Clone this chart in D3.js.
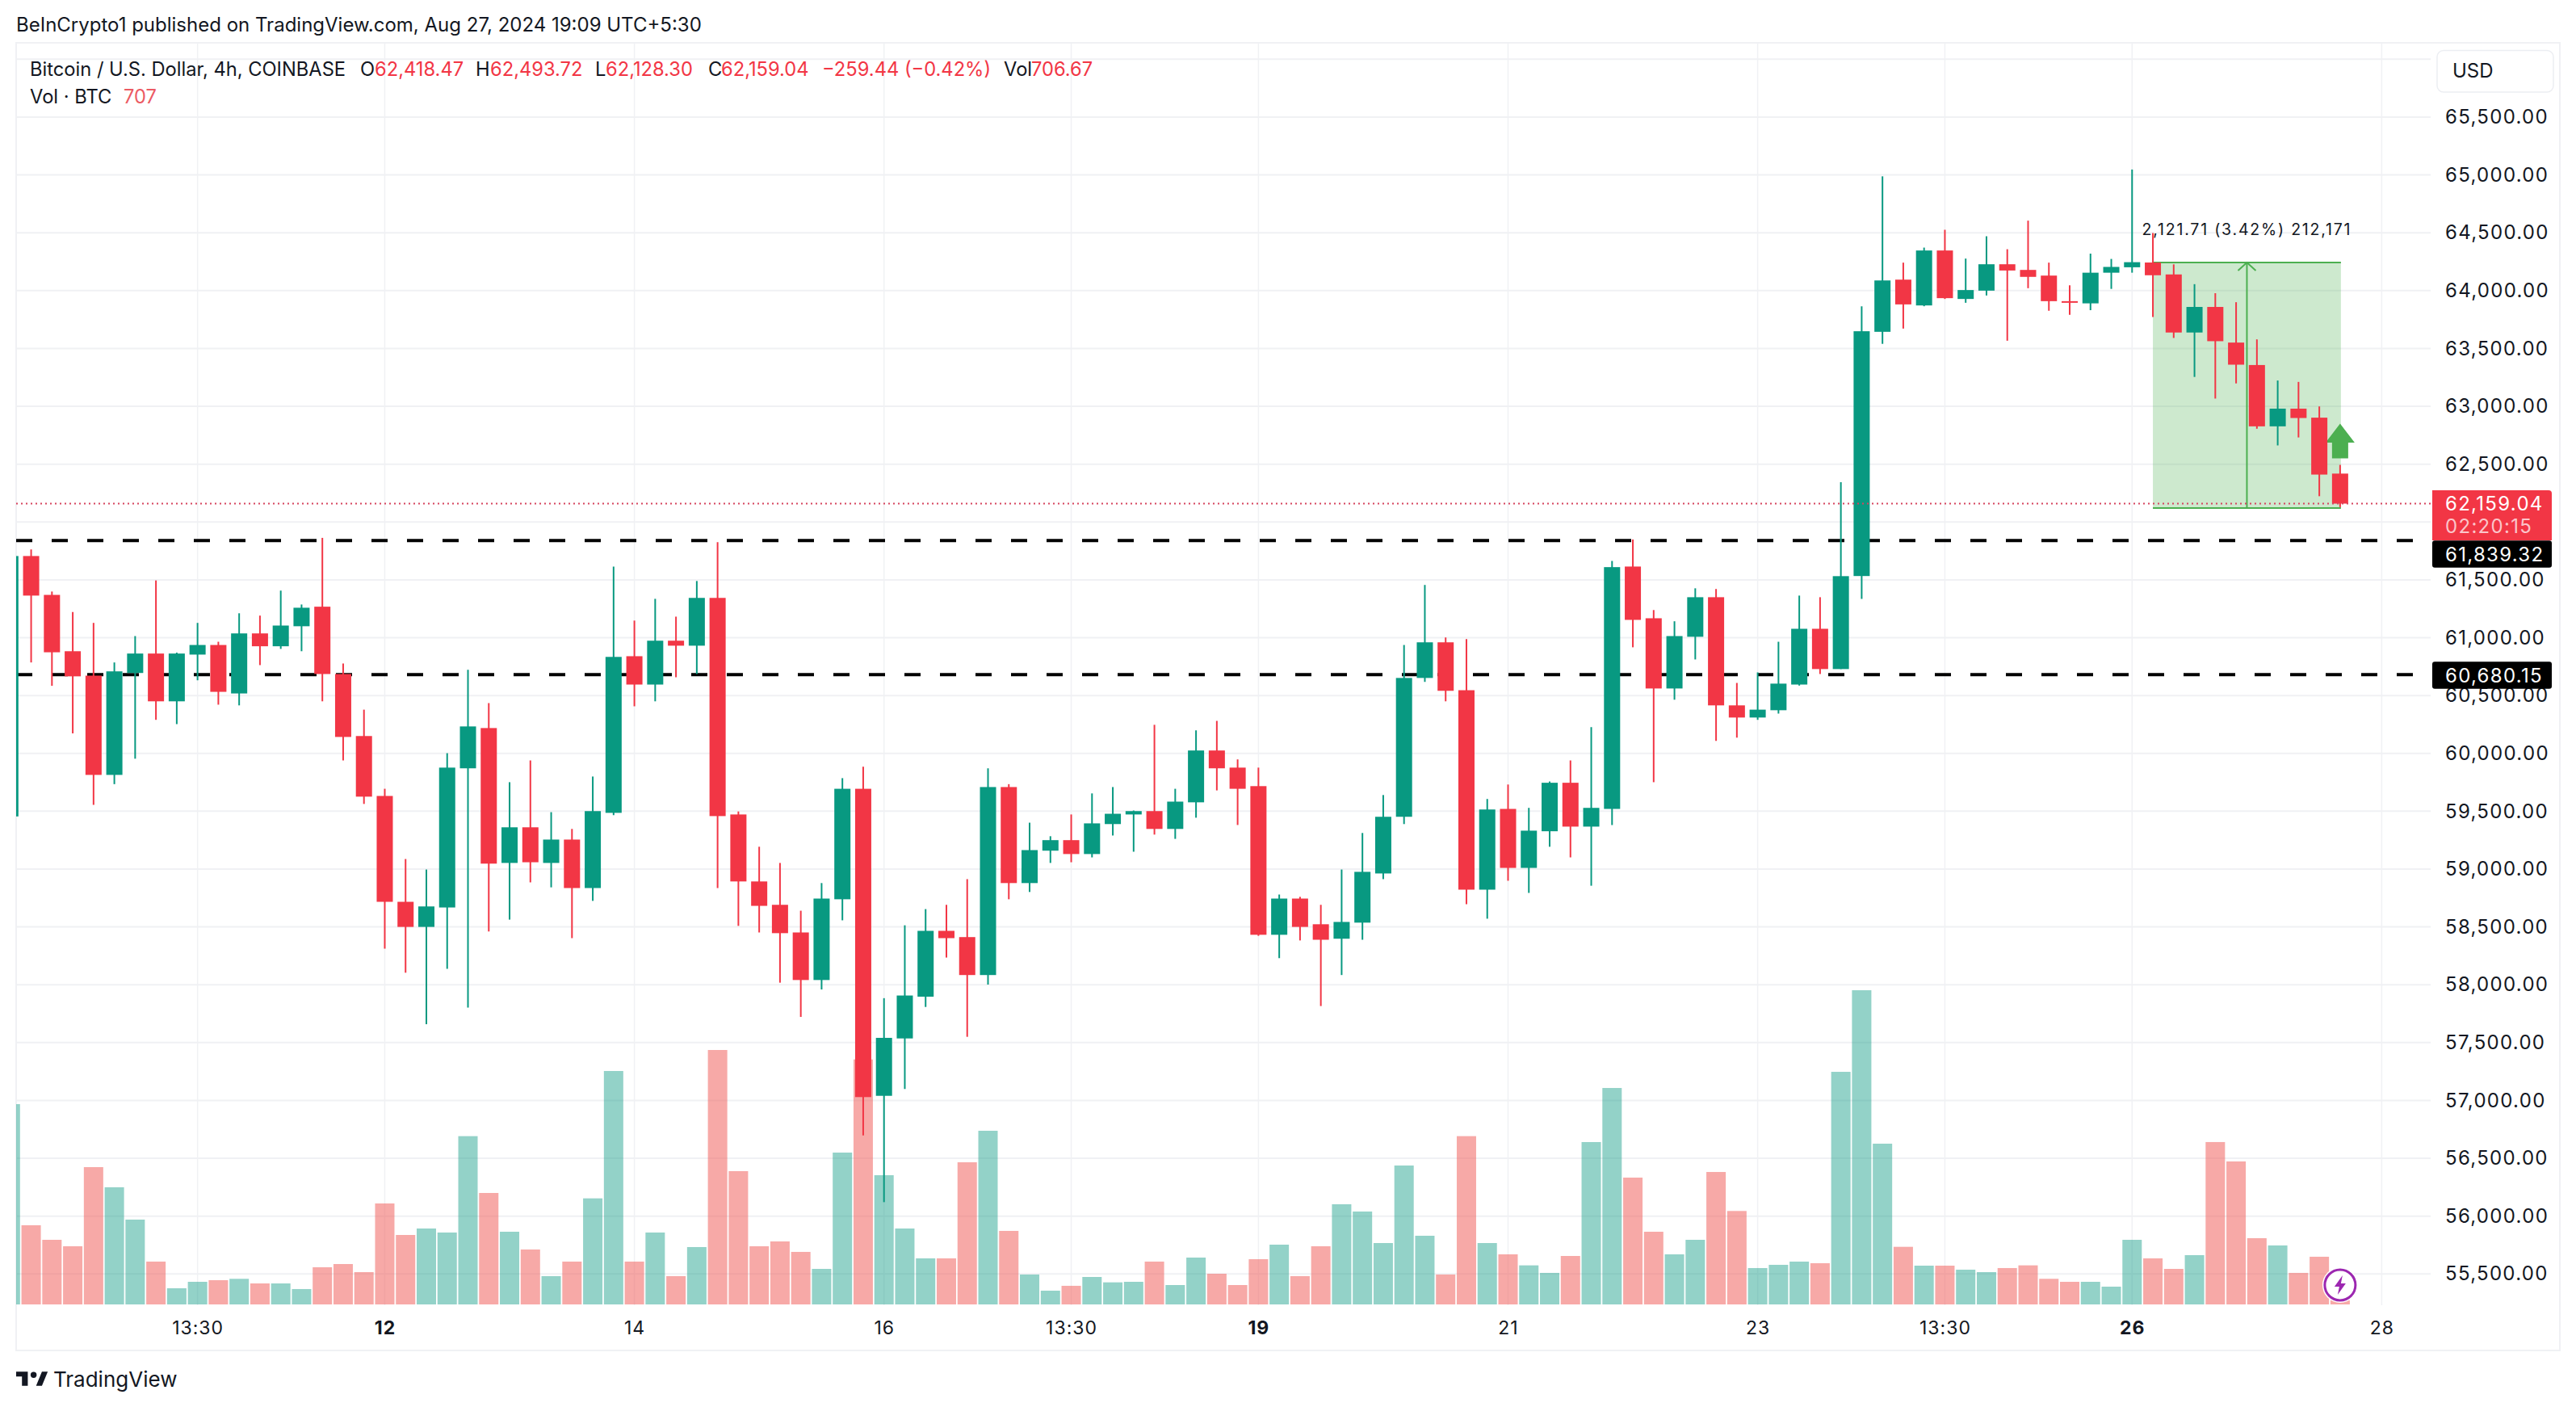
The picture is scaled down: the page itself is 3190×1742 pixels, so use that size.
<!DOCTYPE html>
<html lang="en" dir="ltr">
  <head>
    <meta charset="utf-8">
    <title>BTC/USD 4h</title>
    <script src="https://d3js.org/d3.v7.min.js"></script>
    <style media="screen" type="text/css">
      body { margin: 0; background: #fff; }
      svg { display: block; }
      text { font-family: Inter, "Noto Sans", sans-serif; fill: #131722; }
      .price-axis text { font-size: 24px; letter-spacing: 1.3px; }
      .tag { font-size: 24px; letter-spacing: 1.3px; }
      .time-axis text { font-size: 23px; letter-spacing: 1px; }
      .legend text { font-size: 23.7px; }
      .legend text.red { fill: #F23645; }
    </style>
  </head>
  <body>
    <div id="main"></div>
    <script type="text/javascript">
      // Data. Candle index 0 is cut by the left edge.
      const opens = [59455,61706,61370,60883,60672,59814,60695,60863,60450,60854,60937,60518,61037,60926,61099,61268,60686,60150,59632,58717,58500,58668,59871,60219,59053,59361,59053,59255,58836,59486,60840,60595,60974,60931,61344,59472,58893,58691,58452,58041,58739,59694,57040,57536,57897,58466,58412,58084,59709,58879,59159,59250,59130,59389,59472,59501,59347,59577,60025,59877,59717,58432,58745,58523,58398,58537,58962,59452,60652,60960,60546,58822,59520,59010,59327,59746,59367,59520,61615,61168,60561,61008,61350,60415,60310,60373,60595,61077,60729,61533,63644,64095,63872,64347,63928,64000,64228,64179,64130,63909,63890,64155,64202,64243,64140,63638,63859,63551,63357,62827,62980,62902,62418.47];
      const closes = [61706,61364,60874,60666,59814,60709,60863,60450,60863,60937,60532,61037,60926,61105,61259,60686,60142,59626,58717,58500,58677,59877,60233,59047,59361,59059,59255,58836,59501,60834,60595,60974,60931,61344,59458,58893,58682,58446,58041,58745,59694,57029,57541,57907,58466,58403,58084,59709,58879,59164,59250,59130,59395,59478,59501,59347,59583,60025,59871,59694,58432,58745,58500,58389,58543,58976,59452,60652,60960,60541,58822,59515,59010,59332,59746,59367,59529,61610,61154,60561,61014,61350,60415,60310,60378,60603,61077,60729,61532,63649,64088,63881,64347,63935,64005,64228,64174,64119,63909,63897,64155,64205,64246,64133,63638,63859,63563,63360,62827,62980,62899,62410,62159.04];
      const highs = [61706,61763,61399,61222,61128,60786,61014,61495,60871,61128,60965,61211,61191,61407,61287,61863,60777,60378,59694,59087,58996,60002,60723,60435,59751,59939,59492,59347,59800,61615,61148,61336,61182,61490,61826,59498,59193,59053,58640,58879,59786,59885,57884,58514,58654,58691,58913,59871,59734,59401,59284,59472,59654,59709,59506,60247,59694,60199,60281,59948,59877,58780,58760,58691,58996,59312,59640,60937,61456,61002,60988,59606,59731,59529,59757,59939,60227,61664,61849,61239,61142,61427,61421,60609,60700,60965,61364,61350,62344,63865,64988,64242,64372,64526,64277,64470,64358,64605,64242,64046,64320,64274,65047,64498,64227,64056,63978,63900,63579,63223,63211,62999,62493.72];
      const lows = [59455,60786,60584,60173,59555,59734,59954,60290,60253,60632,60421,60415,60763,60903,60883,60450,59939,59563,58312,58104,57659,58138,57802,58460,58563,58885,58842,58403,58725,59466,60407,60450,60658,60686,58836,58509,58452,58018,57722,57959,58557,56698,56121,57099,57808,58235,57550,58002,58739,58802,59053,59059,59101,59290,59150,59298,59261,59444,59680,59381,58423,58230,58383,57816,58084,58389,58913,59389,60618,60450,58697,58571,58899,58794,59193,59101,58856,59381,60917,59751,60464,60812,60108,60136,60290,60344,60586,60686,60729,61336,63540,63672,63865,63928,63895,63958,63567,64021,63826,63791,63831,64015,64155,63772,63591,63254,63067,63198,62806,62662,62731,62223,62128.30];
      const volumes = [3988,1963,1720,1612,2935,2598,2058,1356,910,1018,1045,1068,991,991,897,1261,1315,1180,2328,1801,1909,1842,3453,2503,1855,1558,1113,1356,2413,4542,1356,1842,1113,1599,4893,2868,1612,1693,1518,1234,3178,4735,2800,1909,1410,1410,3016,3543,1869,1140,870,951,1099,1009,1018,1356,964,1423,1153,964,1396,1639,1113,1612,2314,2193,1666,2962,1788,1140,3453,1666,1477,1293,1167,1450,3354,4258,2760,1855,1477,1720,2854,2202,1248,1302,1356,1329,4528,5892,3327,1603,1288,1288,1221,1180,1248,1293,1068,1018,1018,937,1720,1410,1234,1464,3354,3030,1747,1626,1167,1437,707];

      // 62,000 sits behind the last-price tag in the reference, so it gets no label
      const priceTicks = d3.range(55500, 65501, 500).filter(d => d !== 62000);
      const gridPrices = d3.range(55500, 66001, 500);
      const timeTickIndex = [9, 18, 30, 42, 51, 60, 72, 84, 93, 102, 114];
      const timeTickLabels = ['13:30', '12', '14', '16', '13:30', '19', '21', '23', '13:30', '26', '28'];
      const boldLabels = ['12', '19', '26'];

      const lastPrice = 62159.04;
      const countdown = '02:20:15';
      const levels = [61839.32, 60680.15];
      const levelTagOffsets = [16.7, 0.7];
      // long-position box: from candle 103 to 112
      const rangeStart = 103;
      const rangeEnd = 112;
      const rangeLow = 62121;
      const rangeHigh = 64242.71;
      const rangeLabel = '2,121.71 (3.42%) 212,171';

      const legendItems = [
        ['Bitcoin / U.S. Dollar, 4h, COINBASE', 37, ''],
        ['O', 446, ''], ['62,418.47', 464, 'red'],
        ['H', 589, ''], ['62,493.72', 607, 'red'],
        ['L', 737, ''], ['62,128.30', 750, 'red'],
        ['C', 877, ''], ['62,159.04', 893, 'red'],
        ['\u2212259.44 (\u22120.42%)', 1018, 'red'],
        ['Vol', 1243, ''], ['706.67', 1277, 'red'],
      ];

      const green = '#089981';
      const red = '#F23645';
      const gridColor = '#f0f1f4';

      const svg = d3.select('#main').append('svg')
        .attr('width', 3190)
        .attr('height', 1742);

      // Scales
      const x = d3.scaleLinear().domain([0, 114]).range([12.8, 2949.4]);
      const y = d3.scaleLinear().domain([65000, 55500]).range([216.6, 1577.3]);
      const yVol = d3.scaleLinear().domain([640, 5892]).range([1615, 1226]);

      const paneLeft = 20, paneRight = 3010, paneTop = 53, paneBottom = 1616;

      svg.append('defs').append('clipPath').attr('id', 'pane')
        .append('rect')
        .attr('x', paneLeft).attr('y', paneTop)
        .attr('width', paneRight - paneLeft).attr('height', paneBottom - paneTop);

      // Frame
      svg.append('rect')
        .attr('x', paneLeft).attr('y', paneTop)
        .attr('width', 3170 - paneLeft).attr('height', 1672 - paneTop)
        .attr('fill', 'none').attr('stroke', gridColor).attr('stroke-width', 2);

      // Grid
      const grid = svg.append('g').attr('clip-path', 'url(#pane)');
      grid.selectAll('.h').data(gridPrices).enter().append('line')
        .attr('x1', paneLeft).attr('x2', paneRight)
        .attr('y1', d => y(d)).attr('y2', d => y(d))
        .attr('stroke', gridColor).attr('stroke-width', 2);
      grid.selectAll('.v').data(timeTickIndex).enter().append('line')
        .attr('x1', d => x(d)).attr('x2', d => x(d))
        .attr('y1', paneTop).attr('y2', paneBottom)
        .attr('stroke', gridColor).attr('stroke-width', 1.5);

      const pane = svg.append('g').attr('clip-path', 'url(#pane)');
      const idx = d3.range(opens.length);
      const isUp = i => closes[i] >= opens[i];

      // Volume
      pane.selectAll('.vol').data(idx).enter().append('rect')
        .attr('x', i => x(i) - 12)
        .attr('width', 24)
        .attr('y', i => yVol(volumes[i]))
        .attr('height', i => yVol(640) - yVol(volumes[i]))
        .attr('fill', i => isUp(i) ? 'rgb(8,153,129)' : 'rgb(239,83,80)')
        .attr('fill-opacity', i => isUp(i) ? 0.44 : 0.5);

      // Long position box
      const boxX1 = x(rangeStart), boxX2 = x(rangeEnd) + 1;
      const midX = (boxX1 + boxX2) / 2;
      pane.append('rect')
        .attr('x', boxX1).attr('width', boxX2 - boxX1)
        .attr('y', y(rangeHigh)).attr('height', y(rangeLow) - y(rangeHigh))
        .attr('fill', '#4CAF50').attr('fill-opacity', 0.28);
      [rangeHigh, rangeLow].forEach(p => {
        pane.append('line')
          .attr('x1', boxX1).attr('x2', boxX2)
          .attr('y1', y(p)).attr('y2', y(p))
          .attr('stroke', '#4CAF50').attr('stroke-width', 2);
      });
      pane.append('line')
        .attr('x1', midX).attr('x2', midX)
        .attr('y1', y(rangeHigh)).attr('y2', y(rangeLow))
        .attr('stroke', '#4CAF50').attr('stroke-width', 2);
      pane.append('path')
        .attr('d', `M${midX - 11},${y(rangeHigh) + 10}L${midX},${y(rangeHigh)}L${midX + 11},${y(rangeHigh) + 10}`)
        .attr('fill', 'none').attr('stroke', '#4CAF50').attr('stroke-width', 2);

      // Up arrow
      const arrowX = x(rangeEnd);
      pane.append('path')
        .attr('d', `M${arrowX},524.5L${arrowX + 18},548L${arrowX + 10},548L${arrowX + 10},567.5L${arrowX - 10},567.5L${arrowX - 10},548L${arrowX - 18},548Z`)
        .attr('fill', '#4CAF50');

      // Horizontal levels
      pane.selectAll('.level').data(levels).enter().append('line')
        .attr('x1', paneLeft).attr('x2', 2990)
        .attr('y1', d => y(d)).attr('y2', d => y(d))
        .attr('stroke', '#000').attr('stroke-width', 4)
        .attr('stroke-dasharray', '20 24');

      // Candles
      pane.selectAll('.wick').data(idx).enter().append('line')
        .attr('x1', i => x(i)).attr('x2', i => x(i))
        .attr('y1', i => y(highs[i])).attr('y2', i => y(lows[i]))
        .attr('stroke', i => isUp(i) ? green : red)
        .attr('stroke-width', 2);
      pane.selectAll('.body').data(idx).enter().append('rect')
        .attr('x', i => x(i) - 10)
        .attr('width', 20)
        .attr('y', i => y(Math.max(opens[i], closes[i])))
        .attr('height', i => Math.max(2, Math.abs(y(opens[i]) - y(closes[i]))))
        .attr('fill', i => isUp(i) ? green : red);

      // Last price dotted line
      pane.append('line')
        .attr('x1', paneLeft).attr('x2', paneRight)
        .attr('y1', y(lastPrice)).attr('y2', y(lastPrice))
        .attr('stroke', '#d6455f').attr('stroke-width', 2)
        .attr('stroke-dasharray', '2 4');

      svg.append('text')
        .attr('x', midX).attr('y', 291)
        .attr('text-anchor', 'middle')
        .style('font-size', '19.5px').style('letter-spacing', '1.8px')
        .text(rangeLabel);

      // Axes
      const priceAxis = d3.axisRight(y)
        .tickValues(priceTicks)
        .tickSize(0)
        .tickPadding(0)
        .tickFormat(d3.format(',.2f'));
      svg.append('g').attr('class', 'price-axis')
        .attr('transform', 'translate(3028,0)')
        .call(priceAxis)
        .call(g => g.select('.domain').remove());

      const timeAxis = d3.axisBottom(x)
        .tickValues(timeTickIndex)
        .tickSize(0)
        .tickPadding(0)
        .tickFormat((d, i) => timeTickLabels[i]);
      svg.append('g').attr('class', 'time-axis')
        .attr('transform', 'translate(0,1636)')
        .call(timeAxis)
        .call(g => g.select('.domain').remove())
        .call(g => g.selectAll('text')
          .style('font-weight', d => boldLabels.includes(timeTickLabels[timeTickIndex.indexOf(d)]) ? 700 : 400));

      // Price tags
      svg.append('path')
        .attr('d', 'M3012,607H3156a4,4 0 0 1 4,4V669H3012Z')
        .attr('fill', red);
      svg.append('text').attr('class', 'tag').attr('x', 3028).attr('y', 632)
        .style('fill', '#fff')
        .text(d3.format(',.2f')(lastPrice));
      svg.append('text').attr('class', 'tag').attr('x', 3028).attr('y', 660)
        .style('fill', '#fbc5ca')
        .text(countdown);
      levels.forEach((p, i) => {
        svg.append('rect')
          .attr('x', 3012).attr('width', 148)
          .attr('y', y(p) + levelTagOffsets[i] - 16.7).attr('height', 33.5)
          .attr('rx', 3)
          .attr('fill', '#000');
        svg.append('text').attr('class', 'tag').attr('x', 3028)
          .attr('y', y(p) + levelTagOffsets[i] + 8.5)
          .style('fill', '#fff')
          .text(d3.format(',.2f')(p));
      });

      // USD button
      svg.append('rect')
        .attr('x', 3018).attr('y', 62.5)
        .attr('width', 144).attr('height', 51.5)
        .attr('rx', 8)
        .attr('fill', '#fff').attr('stroke', '#eceef2').attr('stroke-width', 1.5);
      svg.append('text').attr('x', 3037).attr('y', 96)
        .style('font-size', '24px').text('USD');

      // Lightning badge
      const badge = svg.append('g').attr('transform', `translate(${x(112)},1591)`);
      badge.append('circle').attr('r', 22).attr('fill', '#fff');
      badge.append('circle').attr('r', 19).attr('fill', '#fff')
        .attr('stroke', '#9C27B0').attr('stroke-width', 3);
      badge.append('path')
        .attr('d', 'M3,-12L-7,2H-1L-3,12L7,-2H1Z')
        .attr('fill', '#9C27B0');

      // Header and legend
      svg.append('text').attr('x', 20).attr('y', 39)
        .style('font-size', '24px').text('BeInCrypto1 published on TradingView.com, Aug 27, 2024 19:09 UTC+5:30');

      const legend = svg.append('g').attr('class', 'legend');
      legend.selectAll('.item').data(legendItems).enter().append('text')
        .attr('x', d => d[1]).attr('y', 94)
        .attr('class', d => d[2])
        .text(d => d[0]);
      legend.append('text').attr('x', 37).attr('y', 128).text('Vol \u00b7 BTC');
      legend.append('text').attr('x', 153).attr('y', 128)
        .style('fill', '#ec5a63').text('707');

      // Footer logo
      const logo = svg.append('g').attr('transform', 'translate(20,1692) scale(1.03)');
      logo.append('path')
        .attr('d', 'M14 6H0v6h7v11h7V6Zm17 17h-7l7-17h7l-7 17Z')
        .attr('fill', '#131722');
      logo.append('circle').attr('cx', 21).attr('cy', 10).attr('r', 3.6).attr('fill', '#131722');
      svg.append('text').attr('x', 66).attr('y', 1717)
        .style('font-size', '26px').text('TradingView');
    </script>
  </body>
</html>
